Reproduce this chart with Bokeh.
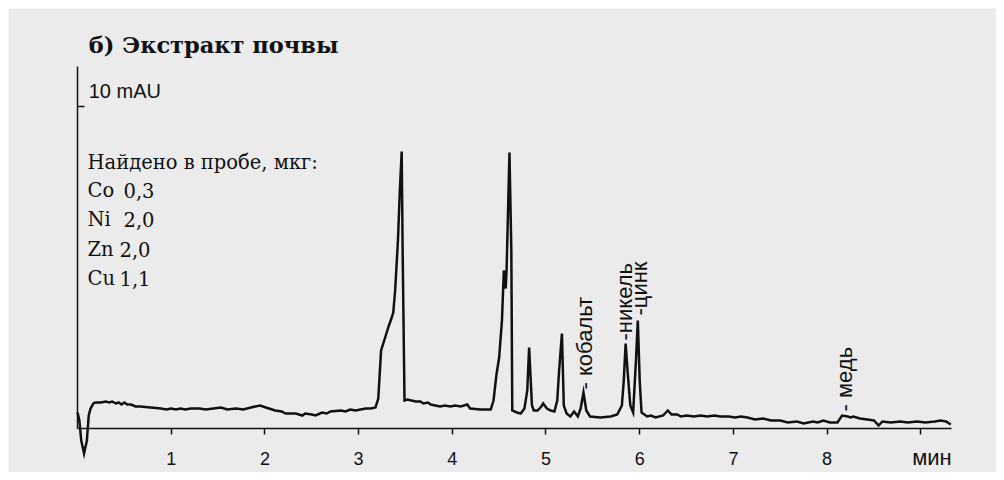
import numpy as np
from bokeh.plotting import figure
from bokeh.models import Range1d, FixedTicker
from bokeh.core.properties import value
from bokeh.embed import file_html
from bokeh.resources import INLINE

# retention time (min) and absorbance (mAU) in segments
t_start = [0.00, 0.02, 0.04, 0.07, 0.10, 0.12, 0.14, 0.17, 0.19, 0.25, 0.30, 0.34, 0.37, 0.41,
           0.44, 0.47, 0.50, 0.53, 0.57, 0.62, 0.67, 0.78]
v_start = [4.0, 2.0, -3.0, -6.25, -3.0, 3.25, 5.0, 6.25, 6.5, 6.5, 6.75, 6.5, 6.75, 6.25,
           6.5, 6.0, 6.5, 6.0, 6.0, 5.5, 5.5, 5.25]
t_base1 = [0.89, 0.95, 1.00, 1.05, 1.10, 1.15, 1.21, 1.30, 1.37, 1.45, 1.53, 1.60, 1.69, 1.77,
           1.85, 1.95, 2.01]
v_base1 = [5.0, 4.75, 5.0, 4.75, 5.0, 4.75, 5.0, 5.0, 4.75, 5.0, 5.25, 4.75, 5.0, 4.75,
           5.25, 5.75, 5.25]
t_base2 = [2.11, 2.18, 2.22, 2.33, 2.40, 2.43, 2.50, 2.54, 2.61, 2.66, 2.70, 2.81, 2.86, 2.91,
           2.97, 3.02, 3.08, 3.13, 3.18]
v_base2 = [4.5, 4.25, 3.75, 3.75, 3.25, 3.75, 3.5, 3.25, 4.0, 3.75, 4.25, 4.5, 4.25, 4.75,
           4.5, 4.75, 5.0, 5.0, 5.25]
t_peak1 = [3.21, 3.24, 3.29, 3.32, 3.35, 3.37, 3.39, 3.42, 3.44, 3.46, 3.47, 3.49]
v_peak1 = [7.5, 19.5, 23.25, 25.5, 27.5, 29.0, 34.5, 47.0, 59.5, 69.25, 44.5, 7.0]
t_base3 = [3.52, 3.61, 3.66, 3.69, 3.74, 3.77, 3.82, 3.87, 3.92, 3.98, 4.03, 4.09, 4.16, 4.19,
           4.30, 4.41]
v_base3 = [7.25, 6.75, 6.75, 6.25, 6.5, 6.0, 5.75, 5.5, 5.75, 5.5, 5.75, 5.5, 6.0, 5.0,
           4.75, 4.75]
t_peaks = [4.44, 4.47, 4.50, 4.53, 4.55, 4.57, 4.58, 4.61, 4.63, 4.64, 4.69, 4.73, 4.77, 4.80,
           4.82, 4.85, 4.87, 4.91, 4.95, 4.97, 5.01, 5.05, 5.09, 5.12, 5.14, 5.17, 5.19, 5.22,
           5.26, 5.30, 5.34, 5.37, 5.40, 5.43, 5.47, 5.58, 5.69, 5.76, 5.81, 5.83, 5.85, 5.87,
           5.90, 5.93, 5.96, 5.98, 6.00, 6.02]
v_peaks = [7.0, 13.25, 17.75, 27.0, 39.5, 35.0, 40.0, 69.0, 44.5, 4.5, 4.0, 3.75, 5.0, 9.5,
           20.25, 5.75, 4.5, 4.5, 5.5, 6.25, 5.0, 4.5, 4.25, 7.0, 14.5, 23.75, 5.75, 3.75,
           3.0, 4.25, 3.0, 5.0, 9.0, 4.5, 3.0, 2.75, 3.0, 3.5, 5.75, 12.0, 21.25, 14.5,
           5.75, 4.0, 17.0, 27.0, 12.0, 4.0]
t_tail = [6.08, 6.12, 6.17, 6.25, 6.30, 6.34, 6.40, 6.44, 6.50, 6.58, 6.65, 6.72, 6.80, 6.86,
          6.95, 7.02, 7.08, 7.15, 7.23, 7.32, 7.40, 7.50, 7.58, 7.68, 7.75, 7.85, 7.90, 7.96,
          8.03, 8.11, 8.16, 8.22, 8.25, 8.28, 8.35, 8.43, 8.50, 8.55, 8.59, 8.68, 8.78, 8.86,
          8.96, 9.05, 9.15, 9.21, 9.27, 9.32]
v_tail = [3.0, 3.25, 2.75, 3.25, 4.5, 3.5, 3.5, 3.0, 3.25, 3.0, 3.25, 3.0, 3.25, 3.0,
          3.0, 2.75, 3.0, 2.75, 2.25, 2.5, 2.0, 2.0, 1.5, 1.75, 1.25, 1.75, 1.5, 2.0,
          1.5, 1.5, 3.25, 3.0, 2.75, 3.0, 2.5, 2.25, 2.0, 0.75, 1.75, 1.5, 1.75, 1.5,
          1.75, 1.5, 1.75, 2.0, 1.75, 1.0]

time_min = t_start + t_base1 + t_base2 + t_peak1 + t_base3 + t_peaks + t_tail
signal_mau = v_start + v_base1 + v_base2 + v_peak1 + v_base3 + v_peaks + v_tail

x_ticks = [1, 2, 3, 4, 5, 6, 7, 8, 9]
x_tick_labels = {9: ""}
x_unit = "мин"
scale_bar_top = 90.5
scale_bar_tick = 80.5
scale_label = "10 mAU"
title_text = "б) Экстракт почвы"
found_header = "Найдено в пробе, мкг:"
found_elements = ["Co", "Ni", "Zn", "Cu"]
found_amounts = ["0,3", "2,0", "2,0", "1,1"]

peak_names = ["- кобальт", "-никель", "-цинк", "- медь"]
peak_t = [5.41, 5.84, 6.00, 8.19]
peak_y = [9.75, 22.0, 28.25, 4.25]

BG = "#ebebeb"
INK = "#111111"

p = figure(width=996, height=472, output_backend="svg", toolbar_location=None,
           x_range=Range1d(-0.7364, 9.808), y_range=Range1d(-11.0, 105.0),
           min_border_left=8, min_border_top=8, min_border_right=0, min_border_bottom=0,
           background_fill_color=BG, border_fill_color="white")
p.outline_line_color = None
p.grid.visible = False

xa = p.xaxis[0]
xa.fixed_location = 0
xa.bounds = (0, 9.33)
xa.ticker = FixedTicker(ticks=x_ticks)
xa.major_label_overrides = x_tick_labels
xa.minor_tick_line_color = None
xa.major_tick_in = 0
xa.major_tick_out = 6
xa.axis_line_width = 1.5
xa.axis_line_color = INK
xa.major_tick_line_color = INK
xa.major_tick_line_width = 1.5
xa.major_label_text_font = "Liberation Sans"
xa.major_label_text_font_size = "18px"
xa.major_label_text_color = INK
xa.major_label_standoff = 17

ya = p.yaxis[0]
ya.fixed_location = 0
ya.bounds = (0, scale_bar_top)
ya.ticker = FixedTicker(ticks=[scale_bar_tick])
ya.major_label_overrides = {scale_bar_tick: ""}
ya.minor_tick_line_color = None
ya.major_tick_in = 7
ya.major_tick_out = 0
ya.axis_line_width = 1.5
ya.axis_line_color = INK
ya.major_tick_line_color = INK
ya.major_tick_line_width = 1.5

p.line(time_min, signal_mau, line_color=INK, line_width=2.5, line_join="miter")

p.text(x=[0.12], y=[96.0], text=[title_text], text_font=value("DejaVu Serif"),
       text_font_style="bold", text_font_size="22.5px", text_color=INK,
       text_baseline="alphabetic", text_align="left")
p.text(x=[0.12], y=[84.5], text=[scale_label], text_font=value("Liberation Sans"),
       text_font_size="20px", text_color=INK, text_baseline="alphabetic")
p.text(x=[0.107], y=[66.5], text=[found_header], text_font=value("DejaVu Serif"),
       text_font_size="19.5px", text_color=INK, text_baseline="alphabetic")
rows_y = [59.5, 52.25, 44.75, 37.5]
p.text(x=[0.107] * 4, y=rows_y, text=found_elements, text_font=value("DejaVu Serif"),
       text_font_size="19.5px", text_color=INK, text_baseline="alphabetic")
p.text(x=[0.491, 0.491, 0.448, 0.448], y=rows_y, text=found_amounts,
       text_font=value("DejaVu Serif"), text_font_size="19.5px", text_color=INK,
       text_baseline="alphabetic")
p.text(x=[9.33], y=[-7.25], text=[x_unit], text_font=value("Liberation Sans"),
       text_font_size="22px", text_color=INK, text_align="right",
       text_baseline="alphabetic")
p.text(x=peak_t, y=peak_y, text=peak_names, angle=np.pi / 2,
       text_font=value("Liberation Sans"), text_font_size="22px", text_color=INK,
       text_align="left", text_baseline="middle")

open("out.html", "w").write(file_html(p, INLINE))
